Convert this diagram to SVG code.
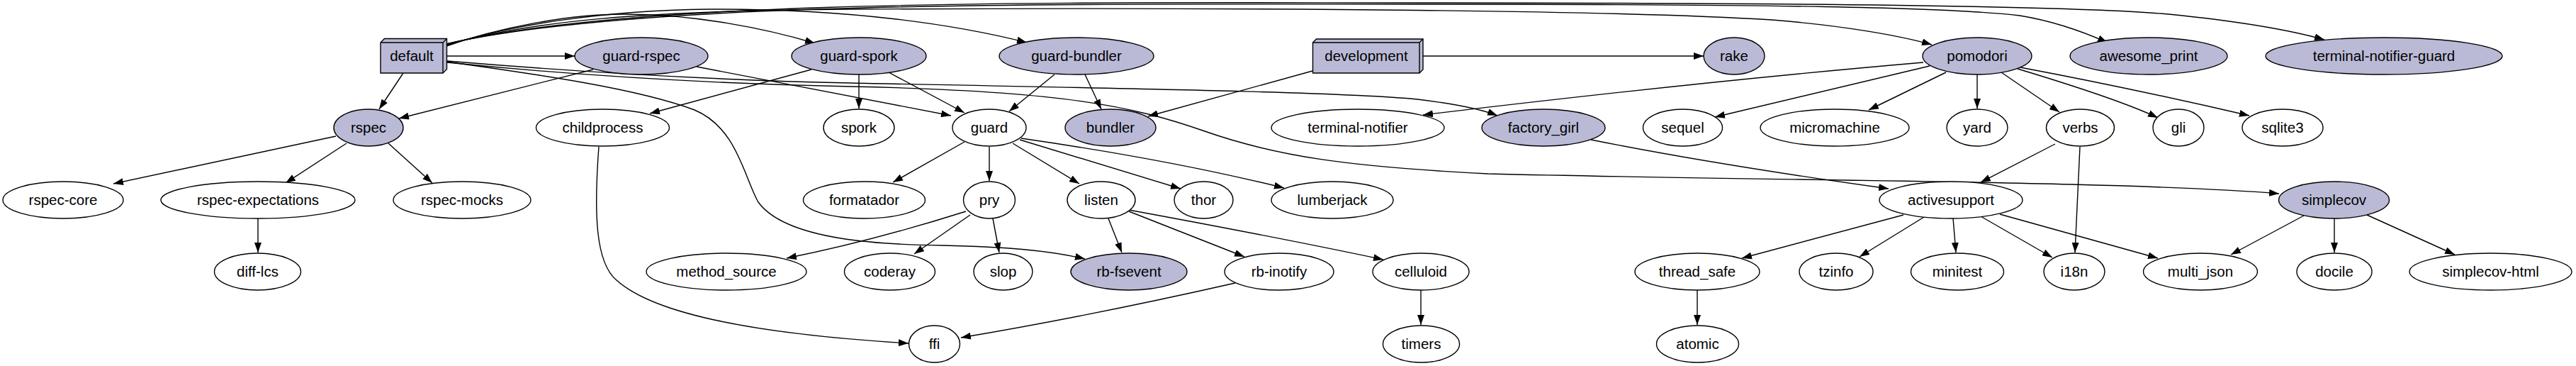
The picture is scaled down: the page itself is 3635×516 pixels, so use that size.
<svg xmlns="http://www.w3.org/2000/svg" width="3635" height="516" viewBox="0 0 3635 516">
<defs>
<marker id="a" viewBox="0 0 14 10" refX="14" refY="5" markerUnits="userSpaceOnUse" markerWidth="14" markerHeight="10" orient="auto">
<path d="M0,0 L14,5 L0,10 Z" fill="#000"/>
</marker>
<style>
ellipse, polygon, .b {stroke:#000; stroke-width:1.4; fill:#fff}
.f ellipse, .f polygon {fill:#babad6}
.b {fill:none}
text {font-family:"Liberation Sans", Arial, sans-serif; font-size:20.5px; text-anchor:middle; fill:#000}
#edges path {fill:none; stroke:#000; stroke-width:1.4; marker-end:url(#a)}
</style>
</defs>
<rect width="3635" height="516" fill="#fff"/>
<g id="edges">
<path d="M569,103 L535,154"/>
<path d="M631,79 L811,79"/>
<path d="M837,98 L563,167"/>
<path d="M983,94 L1342,163"/>
<path d="M1145,98 L917,160"/>
<path d="M1212,105 L1212,153"/>
<path d="M1254,102 L1361,159"/>
<path d="M1488,105 L1424,157"/>
<path d="M1531,105 L1554,154"/>
<path d="M1852,100 L1620,164"/>
<path d="M2008,79 L2404,79"/>
<path d="M2714,88 Q2400,115 2008,162"/>
<path d="M2723,93 L2420,165"/>
<path d="M2746,102 L2637,155"/>
<path d="M2790,105 L2790,153"/>
<path d="M2824,102 L2906,158"/>
<path d="M2847,97 Q2990,140 3045,166"/>
<path d="M2851,95 Q3010,125 3174,163"/>
<path d="M2900,203 L2795,257"/>
<path d="M2935,207 L2928,356"/>
<path d="M2245,197 Q2420,232 2665,266"/>
<path d="M2686,303 L2458,364"/>
<path d="M2715,306 L2624,362"/>
<path d="M2756,308 L2760,356"/>
<path d="M2795,305 L2896,363"/>
<path d="M2822,302 L3045,364"/>
<path d="M3251,304 L3148,359"/>
<path d="M3294,308 L3294,356"/>
<path d="M3340,303 L3464,359"/>
<path d="M2395,409 L2395,458"/>
<path d="M2005,409 L2005,458"/>
<path d="M474,192 L160,259"/>
<path d="M489,202 L403,258"/>
<path d="M548,202 L610,258"/>
<path d="M364,308 L364,356"/>
<path d="M1361,200 L1260,257"/>
<path d="M1396,207 L1396,255"/>
<path d="M1429,202 L1523,259"/>
<path d="M1439,197 L1666,266"/>
<path d="M1441,195 Q1650,225 1812,265"/>
<path d="M1363,298 Q1230,340 1110,364"/>
<path d="M1369,303 L1290,358"/>
<path d="M1401,308 L1410,356"/>
<path d="M1564,308 L1583,356"/>
<path d="M1593,298 L1756,362"/>
<path d="M1593,296 Q1800,334 1952,366"/>
<path d="M1743,399 Q1540,445 1356,476"/>
<path d="M845,207 C838,300 840,370 870,395 C920,440 1050,470 1282,484"/>
<path d="M630,87 C760,105 900,125 980,155 C1040,180 1050,250 1070,285 C1110,340 1250,345 1330,346 C1420,348 1480,353 1531,365"/>
<path d="M630,65 C700,40 800,20 880,20 C980,20 1080,40 1150,61"/>
<path d="M630,64 C720,35 850,15 1000,13 C1200,12 1350,35 1449,60"/>
<path d="M630,63 C750,30 900,15 1200,13 C1800,10 2300,15 2500,28 C2600,36 2680,50 2726,63"/>
<path d="M630,62 C900,0 1500,6 2000,6 C2500,6 2750,10 2850,22 C2900,30 2940,45 2974,60"/>
<path d="M630,62 C900,-3 1500,4 2000,4 C2600,4 2950,10 3060,20 C3160,30 3230,42 3280,56"/>
<path d="M631,86 C800,100 1000,113 1200,117 C1600,125 1900,130 2000,140 C2050,146 2090,154 2113,163"/>
<path d="M631,88 C800,105 1000,118 1200,122 C1500,128 1600,150 1700,185 C1800,220 1900,235 2100,245 C2500,255 3000,255 3216,273"/>
</g>
<g id="default" class="f"><polygon points="537,60 542.5,54.5 630.5,54.5 630.5,97.5 625,103 537,103"/><path class="b" d="M537,60 L625,60 L625,103 M625,60 L630.5,54.5"/><text x="581" y="86">default</text></g>
<g id="development" class="f"><polygon points="1852.5,60 1857.5,55 2008,55 2008,98 2003,103 1852.5,103"/><path class="b" d="M1852.5,60 L2003,60 L2003,103 M2003,60 L2008,55"/><text x="1928" y="86">development</text></g>
<g id="guard-rspec" class="f"><ellipse cx="905" cy="79" rx="94" ry="26"/><text x="905" y="86">guard-rspec</text></g>
<g id="guard-spork" class="f"><ellipse cx="1212" cy="79" rx="95" ry="26"/><text x="1212" y="86">guard-spork</text></g>
<g id="guard-bundler" class="f"><ellipse cx="1519" cy="79" rx="109" ry="26"/><text x="1519" y="86">guard-bundler</text></g>
<g id="rake" class="f"><ellipse cx="2447" cy="79" rx="43" ry="26"/><text x="2447" y="86">rake</text></g>
<g id="pomodori" class="f"><ellipse cx="2790" cy="79" rx="77" ry="26"/><text x="2790" y="86">pomodori</text></g>
<g id="awesome_print" class="f"><ellipse cx="3032" cy="79" rx="111" ry="26"/><text x="3032" y="86">awesome_print</text></g>
<g id="terminal-notifier-guard" class="f"><ellipse cx="3364" cy="79" rx="167" ry="26"/><text x="3364" y="86">terminal-notifier-guard</text></g>
<g id="rspec" class="f"><ellipse cx="520" cy="180" rx="49" ry="26"/><text x="520" y="187">rspec</text></g>
<g id="childprocess"><ellipse cx="850.5" cy="180" rx="94" ry="26"/><text x="850.5" y="187">childprocess</text></g>
<g id="spork"><ellipse cx="1212" cy="180" rx="50" ry="26"/><text x="1212" y="187">spork</text></g>
<g id="guard"><ellipse cx="1396" cy="180" rx="52" ry="26"/><text x="1396" y="187">guard</text></g>
<g id="bundler" class="f"><ellipse cx="1567" cy="180" rx="64" ry="26"/><text x="1567" y="187">bundler</text></g>
<g id="terminal-notifier"><ellipse cx="1916" cy="180" rx="122" ry="26"/><text x="1916" y="187">terminal-notifier</text></g>
<g id="factory_girl" class="f"><ellipse cx="2178" cy="180" rx="87" ry="26"/><text x="2178" y="187">factory_girl</text></g>
<g id="sequel"><ellipse cx="2374.5" cy="180" rx="56" ry="26"/><text x="2374.5" y="187">sequel</text></g>
<g id="micromachine"><ellipse cx="2589" cy="180" rx="105" ry="26"/><text x="2589" y="187">micromachine</text></g>
<g id="yard"><ellipse cx="2790" cy="180" rx="43" ry="26"/><text x="2790" y="187">yard</text></g>
<g id="verbs"><ellipse cx="2935.5" cy="180" rx="48" ry="26"/><text x="2935.5" y="187">verbs</text></g>
<g id="gli"><ellipse cx="3074" cy="180" rx="36" ry="26"/><text x="3074" y="187">gli</text></g>
<g id="sqlite3"><ellipse cx="3221" cy="180" rx="57" ry="26"/><text x="3221" y="187">sqlite3</text></g>
<g id="rspec-core"><ellipse cx="89" cy="282" rx="85" ry="26"/><text x="89" y="289">rspec-core</text></g>
<g id="rspec-expectations"><ellipse cx="364" cy="282" rx="137" ry="26"/><text x="364" y="289">rspec-expectations</text></g>
<g id="rspec-mocks"><ellipse cx="652" cy="282" rx="97" ry="26"/><text x="652" y="289">rspec-mocks</text></g>
<g id="formatador"><ellipse cx="1219.5" cy="282" rx="86" ry="26"/><text x="1219.5" y="289">formatador</text></g>
<g id="pry"><ellipse cx="1396" cy="282" rx="36.5" ry="26"/><text x="1396" y="289">pry</text></g>
<g id="listen"><ellipse cx="1554" cy="282" rx="48" ry="26"/><text x="1554" y="289">listen</text></g>
<g id="thor"><ellipse cx="1698.5" cy="282" rx="41.5" ry="26"/><text x="1698.5" y="289">thor</text></g>
<g id="lumberjack"><ellipse cx="1880" cy="282" rx="86" ry="26"/><text x="1880" y="289">lumberjack</text></g>
<g id="activesupport"><ellipse cx="2753" cy="282" rx="101" ry="26"/><text x="2753" y="289">activesupport</text></g>
<g id="simplecov" class="f"><ellipse cx="3293.5" cy="282" rx="78" ry="26"/><text x="3293.5" y="289">simplecov</text></g>
<g id="diff-lcs"><ellipse cx="363.5" cy="383" rx="61" ry="26"/><text x="363.5" y="390">diff-lcs</text></g>
<g id="method_source"><ellipse cx="1025" cy="383" rx="113" ry="26"/><text x="1025" y="390">method_source</text></g>
<g id="coderay"><ellipse cx="1255.5" cy="383" rx="64" ry="26"/><text x="1255.5" y="390">coderay</text></g>
<g id="slop"><ellipse cx="1415.5" cy="383" rx="41.5" ry="26"/><text x="1415.5" y="390">slop</text></g>
<g id="rb-fsevent" class="f"><ellipse cx="1593" cy="383" rx="82" ry="26"/><text x="1593" y="390">rb-fsevent</text></g>
<g id="rb-inotify"><ellipse cx="1805" cy="383" rx="77" ry="26"/><text x="1805" y="390">rb-inotify</text></g>
<g id="celluloid"><ellipse cx="2005" cy="383" rx="68" ry="26"/><text x="2005" y="390">celluloid</text></g>
<g id="thread_safe"><ellipse cx="2395" cy="383" rx="88" ry="26"/><text x="2395" y="390">thread_safe</text></g>
<g id="tzinfo"><ellipse cx="2591" cy="383" rx="52" ry="26"/><text x="2591" y="390">tzinfo</text></g>
<g id="minitest"><ellipse cx="2762" cy="383" rx="65.5" ry="26"/><text x="2762" y="390">minitest</text></g>
<g id="i18n"><ellipse cx="2927" cy="383" rx="43" ry="26"/><text x="2927" y="390">i18n</text></g>
<g id="multi_json"><ellipse cx="3105" cy="383" rx="80.5" ry="26"/><text x="3105" y="390">multi_json</text></g>
<g id="docile"><ellipse cx="3294" cy="383" rx="53" ry="26"/><text x="3294" y="390">docile</text></g>
<g id="simplecov-html"><ellipse cx="3514.5" cy="383" rx="114.5" ry="26"/><text x="3514.5" y="390">simplecov-html</text></g>
<g id="ffi"><ellipse cx="1318.5" cy="485" rx="36" ry="26"/><text x="1318.5" y="492">ffi</text></g>
<g id="timers"><ellipse cx="2005.5" cy="485" rx="54" ry="26"/><text x="2005.5" y="492">timers</text></g>
<g id="atomic"><ellipse cx="2395.5" cy="485" rx="58" ry="26"/><text x="2395.5" y="492">atomic</text></g>
</svg>
